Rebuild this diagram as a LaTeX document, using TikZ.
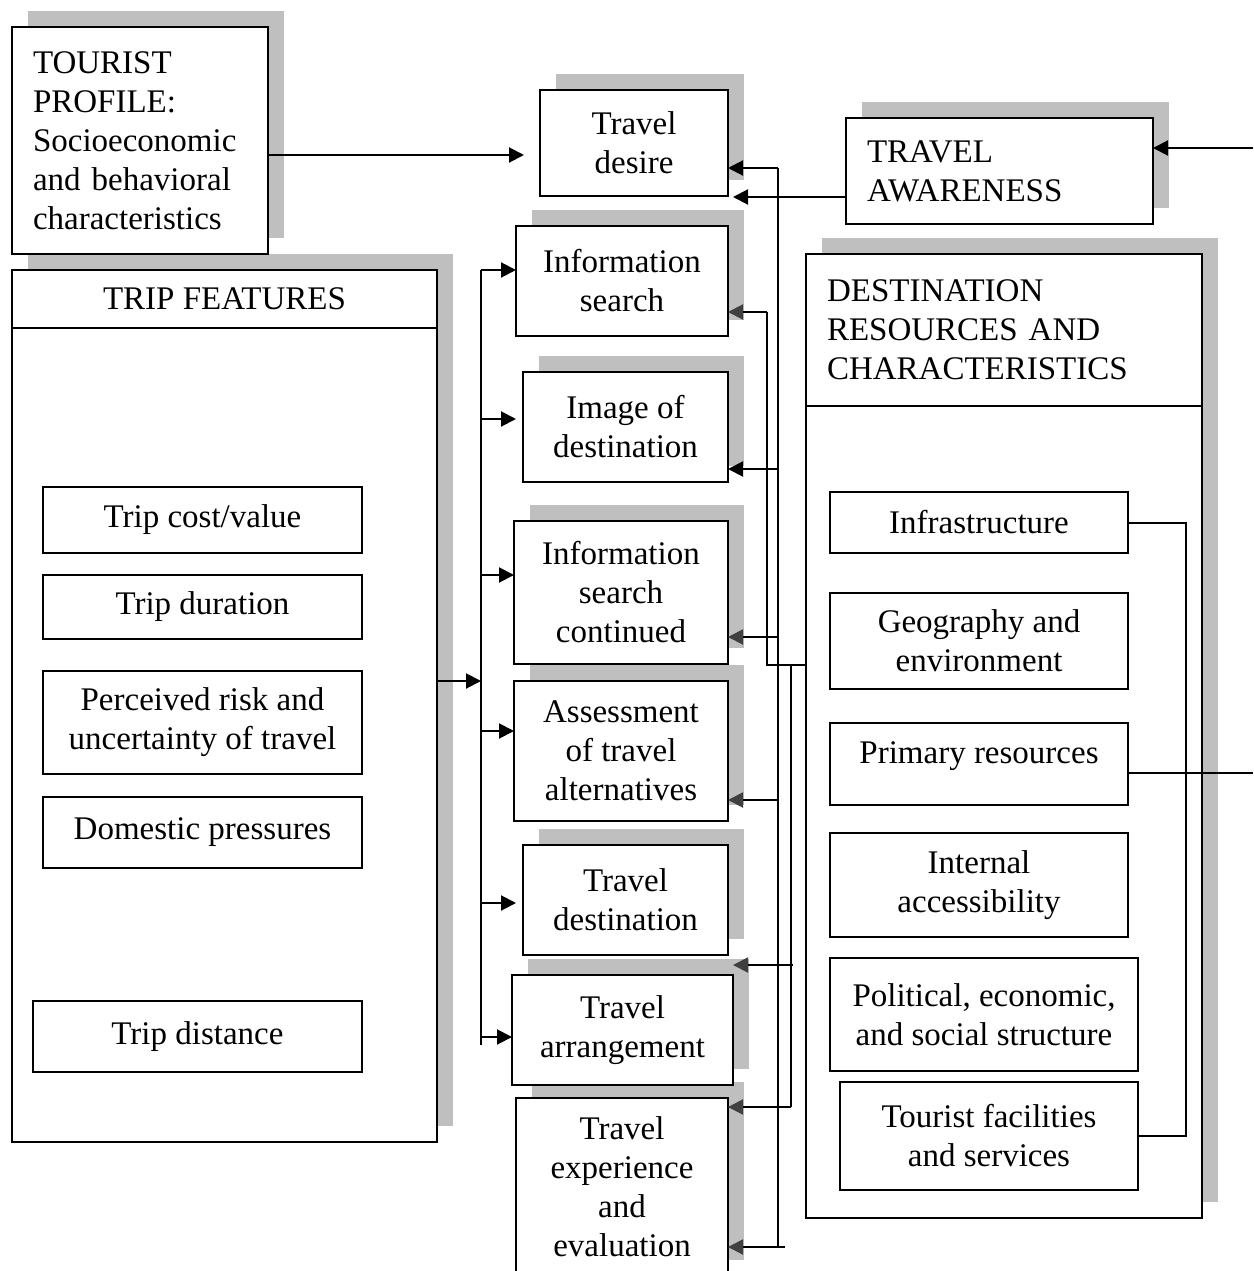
\documentclass[tikz,border=0pt]{standalone}
\usepackage{fontspec}
\setmainfont{Liberation Serif}
\usetikzlibrary{shadows,arrows.meta}
\definecolor{shadowgray}{HTML}{BFBFBF}
\definecolor{tipgray}{HTML}{404040}
\begin{document}
\begin{tikzpicture}[x=1pt,y=-1pt,
  every node/.style={font=\fontsize{33}{39}\selectfont, inner sep=0pt, outer sep=0pt},
  box/.style={draw, line width=2pt, fill=white, anchor=north west, align=center},
  sbox/.style={box, drop shadow={shadow xshift=16pt, shadow yshift=16pt, fill=shadowgray, opacity=1, draw=none}},
  lbox/.style={align=left, inner xsep=21pt},
  conn/.style={line width=2pt},
  arr/.style={conn, -{Triangle[length=15pt,width=15pt]}},
  arrg/.style={conn, -{Triangle[length=15pt,width=15pt,fill=tipgray,color=tipgray]}},
]
\useasboundingbox[fill=white] (0,0) rectangle (1253,1271);

% Trip features
\node[sbox, minimum width=425, minimum height=872] (trip) at (12,270) {};
\node[box, minimum width=425, minimum height=58] (triphead) at (12,270) {TRIP FEATURES};
\node[box, minimum width=319, minimum height=66] (cost) at (43,487) {Trip cost/value};
\node[box, minimum width=319, minimum height=64] (duration) at (43,575) {Trip duration};
\node[box, minimum width=319, minimum height=103] (risk) at (43,671) {Perceived risk and\\uncertainty of travel};
\node[box, minimum width=319, minimum height=71] (domestic) at (43,797) {Domestic pressures};
\node[box, minimum width=329, minimum height=71] (distance) at (33,1001) {Trip distance};

% Tourist profile
\node[sbox, lbox, text width=214, minimum height=227] (profile) at (12,27) {TOURIST\\PROFILE:\\Socioeconomic\\and behavioral\\characteristics};

% Central column (bottom to top)
\node[sbox, minimum width=212, minimum height=178] (exper) at (516,1098) {Travel\\experience\\and\\evaluation};
\node[sbox, minimum width=221, minimum height=110] (arrange) at (512,975) {Travel\\arrangement};
\node[sbox, minimum width=205, minimum height=110] (tdest) at (523,845) {Travel\\destination};
\node[sbox, minimum width=214, minimum height=140] (assess) at (514,681) {Assessment\\of travel\\alternatives};
\node[sbox, minimum width=214, minimum height=143] (infocont) at (514,521) {Information\\search\\continued};
\node[sbox, minimum width=205, minimum height=110] (image) at (523,372) {Image of\\destination};
\node[sbox, minimum width=212, minimum height=110] (infosearch) at (516,226) {Information\\search};
\node[sbox, minimum width=188, minimum height=106] (desire) at (540,90) {Travel\\desire};

% Travel awareness
\node[sbox, lbox, text width=265, minimum height=106] (aware) at (846,118) {TRAVEL\\AWARENESS};

% Destination resources
\node[sbox, minimum width=396, minimum height=964] (dest) at (806,254) {};
\node[box, lbox, text width=354, minimum height=152] (desthead) at (806,254) {DESTINATION\\RESOURCES AND\\CHARACTERISTICS};
\node[box, minimum width=298, minimum height=61] (infra) at (830,492) {Infrastructure};
\node[box, minimum width=298, minimum height=96] (geo) at (830,593) {Geography and\\environment};
\node[box, minimum width=298, minimum height=82, text depth=22pt] (prim) at (830,723) {Primary resources};
\node[box, minimum width=298, minimum height=104] (access) at (830,833) {Internal\\accessibility};
\node[box, minimum width=308, minimum height=113] (polit) at (830,958) {Political, economic,\\and social structure};
\node[box, minimum width=298, minimum height=108] (facil) at (840,1082) {Tourist facilities\\and services};

% Top connectors
\coordinate (desireIn) at (524,155);
\draw[arr] (profile.east |- desireIn) -- (desireIn);
\coordinate (awIn) at (1253,148);
\draw[arr] (awIn) -- (aware.east |- awIn);
\coordinate (awOut) at (733,197);
\draw[arr] (aware.west |- awOut) -- (awOut);

% Left bus
\coordinate (lbTop) at (481,270);
\coordinate (lbBot) at (481,1045);
\coordinate (lbIn) at (481,681);
\coordinate (lb2) at (481,419);
\coordinate (lb3) at (481,575);
\coordinate (lb4) at (481,731);
\coordinate (lb5) at (481,903);
\coordinate (lb6) at (481,1037);
\draw[arr] (trip.east |- lbIn) -- (lbIn);
\draw[conn] (lbBot) -- (lbTop);
\draw[arr] (lbTop) -- (infosearch.west |- lbTop);
\draw[arr, shorten >=7pt] (lb2) -- (image.west |- lb2);
\draw[arr] (lb3) -- (infocont.west |- lb3);
\draw[arr] (lb4) -- (assess.west |- lb4);
\draw[arr, shorten >=7pt] (lb5) -- (tdest.west |- lb5);
\draw[arr] (lb6) -- (arrange.west |- lb6);

% Right buses
\coordinate (ra1) at (767,312);
\coordinate (ra2) at (767,665);
\draw[conn] (ra1) -- (ra2) -- (dest.west |- ra2);
\draw[arrg] (ra1) -- (infosearch.east |- ra1);

\coordinate (rb1) at (778,168);
\coordinate (rb2) at (778,1247);
\coordinate (rb469) at (778,469);
\coordinate (rb637) at (778,637);
\coordinate (rb800) at (778,800);
\coordinate (rbEnd) at (785,1247);
\draw[conn] (rb1) -- (rb2);
\draw[arr] (rb1) -- (desire.east |- rb1);
\draw[arr] (rb469) -- (image.east |- rb469);
\draw[arrg] (rb637) -- (infocont.east |- rb637);
\draw[arrg] (rb800) -- (assess.east |- rb800);
\draw[arrg] (rbEnd) -- (exper.east |- rbEnd);

\coordinate (rc1) at (791,665);
\coordinate (rc2) at (791,1107);
\coordinate (rc965) at (793,965);
\draw[conn] (rc1) -- (rc2);
\draw[arrg] (rc965) -- (arrange.east |- rc965);
\draw[arrg] (rc2) -- (exper.east |- rc2);

% Right side connectors
\coordinate (infraBend) at (1186,800);
\draw[conn] (infra.east) -| (infraBend) |- (facil.east);
\coordinate (primOut) at (1253,773);
\draw[conn] (prim.east |- primOut) -- (primOut);
\end{tikzpicture}
\end{document}
